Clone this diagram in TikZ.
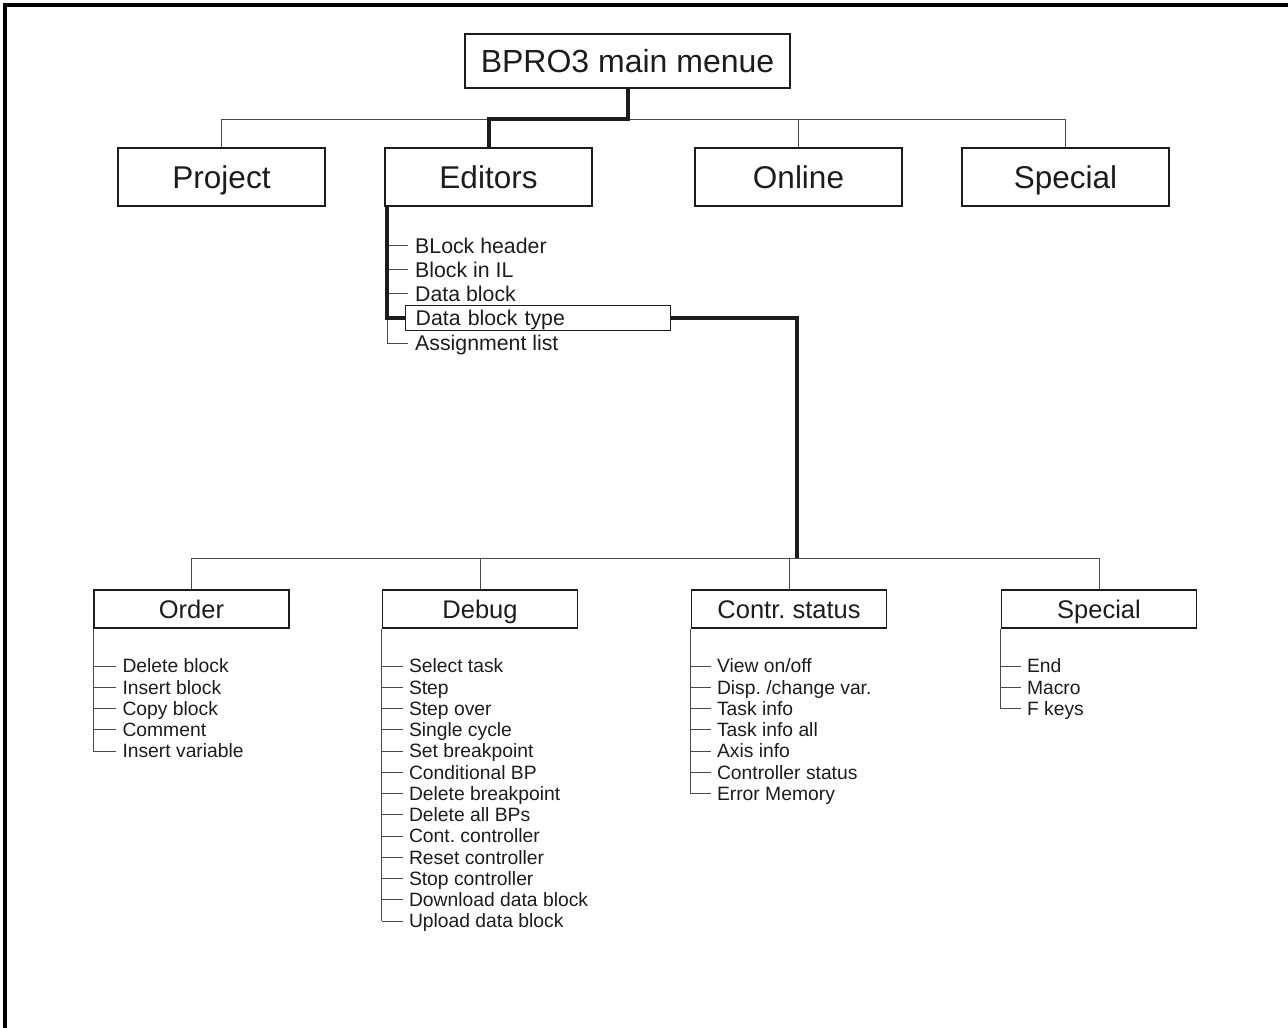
\documentclass[tikz,border=0pt]{standalone}
\usepackage{fontspec}
\setmainfont{Liberation Sans}
\frenchspacing
\definecolor{ink}{HTML}{1C1C1C}
\definecolor{wire}{HTML}{4A4A4A}
\begin{document}
\begin{tikzpicture}[x=1pt,y=-1pt,
  every node/.style={text=ink},
  % text is sized to its capital height, so anchors sit at the cap middle
  txt/.style={font=\fontsize{#1}{#1}\selectfont, text height={0.716*#1 pt}, text depth=0pt},
  box/.style={draw=ink, line width=1.4pt, inner sep=0pt},
  mainbox/.style={box, minimum width=325pt, minimum height=54pt, txt=32},
  topbox/.style={box, minimum width=207pt, minimum height=58pt, txt=31.5},
  subbox/.style={box, minimum width=195pt, minimum height=38pt, txt=25.5},
  edititem/.style={anchor=west, inner sep=0pt, xshift=7pt, txt=21.3},
  listitem/.style={anchor=west, inner sep=0pt, xshift=6pt, txt=19.3},
  thinwire/.style={draw=wire, line width=1pt},
  boldwire/.style={draw=ink, line width=4pt},
]
\useasboundingbox (0,0) rectangle (1288,1028);

% page frame (top and left edges)
\draw[line width=3.5pt] (1290,5) -- (5,5) -- (5,1030);

% main menu and first level
\node[mainbox] (main) at (627.5,61) {BPRO3 main menue};
\node[topbox] (project) at (221.5,177) {Project};
\node[topbox] (editors) at (488.5,177) {Editors};
\node[topbox] (online)  at (798.5,177) {Online};
\node[topbox] (special) at (1065.5,177) {Special};

\coordinate (busA) at (0,119);
\draw[thinwire] (project.north) -- (project.north |- busA) -- (special.north |- busA) -- (special.north);
\draw[thinwire] (online.north |- busA) -- (online.north);
\draw[boldwire] (main.south) -- (main.south |- busA) -| (editors.north);

% editors submenu
\coordinate (espine) at (387,206);
\node[edititem] (e1) at (408,245.5) {BLock header};
\node[edititem] (e2) at (408,269.5) {Block in IL};
\node[edititem] (e3) at (408,293.5) {Data block};
\node[box, anchor=west, inner xsep=10pt, inner ysep=0pt, text width=245pt, minimum height=25pt,
      txt=21.3] (e4) at (405,318) {Data block type};
\node[edititem] (e5) at (408,343) {Assignment list};
\foreach \n in {e1,e2,e3}
  \draw[thinwire] (espine |- \n.west) -- ([xshift=-7pt]\n.west);
\draw[thinwire] (espine |- e4.west) -- (espine |- e5.west) -- ([xshift=-7pt]e5.west);
\draw[boldwire] (editors.south -| espine) -- (espine |- e4.west) -- (e4.west);

% second level
\node[subbox] (order) at (191.5,609) {Order};
\node[subbox] (debug) at (480,609) {Debug};
\node[subbox] (contr) at (789,609) {Contr. status};
\node[subbox] (spec2) at (1099,609) {Special};

\coordinate (busB) at (0,558);
\draw[thinwire] (order.north) -- (order.north |- busB) -- (spec2.north |- busB) -- (spec2.north);
\draw[thinwire] (debug.north |- busB) -- (debug.north);
\draw[thinwire] (contr.north |- busB) -- (contr.north);
\draw[boldwire] (e4.east) -| (797,558);

% item lists below the second level
\foreach \parent/\tick/\items in {
  order/23/{Delete block,Insert block,Copy block,Comment,Insert variable},
  debug/21/{Select task,Step,Step over,Single cycle,Set breakpoint,Conditional BP,Delete breakpoint,Delete all BPs,Cont. controller,Reset controller,Stop controller,Download data block,Upload data block},
  contr/20/{View on/off,Disp. /change var.,Task info,Task info all,Axis info,Controller status,Error Memory},
  spec2/20/{End,Macro,F keys}}{
  \foreach \t [count=\i] in \items {
    \node[listitem] (\parent-\i) at ([xshift=\tick pt]\parent.south west |- 0,{666+21.25*(\i-1)}) {\t};
    \draw[thinwire] (\parent.south west |- \parent-\i.west) -- ([xshift=-6pt]\parent-\i.west);
    \xdef\last{\i}
  }
  \draw[thinwire] (\parent.south west) -- (\parent.south west |- \parent-\last.west);
}
\end{tikzpicture}
\end{document}
